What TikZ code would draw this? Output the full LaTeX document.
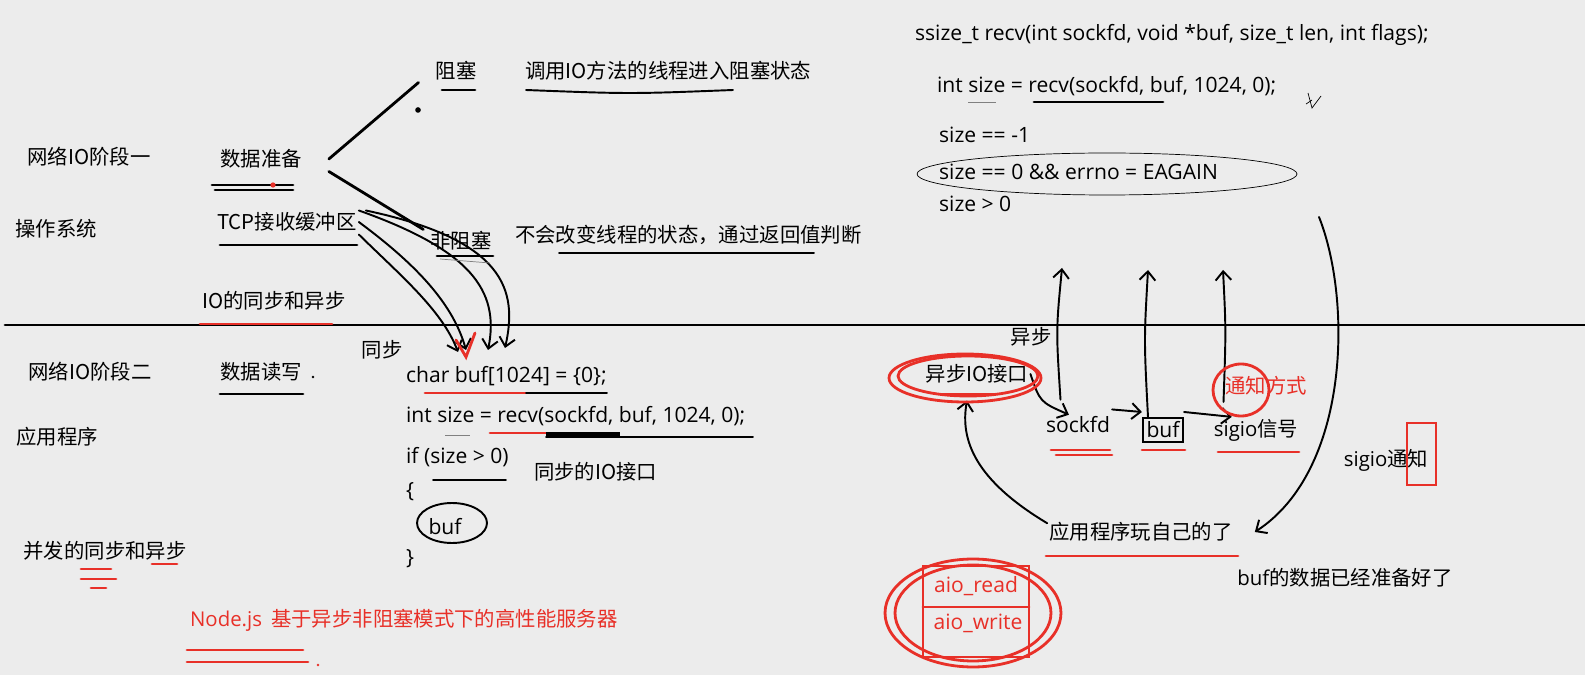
\documentclass[tikz,border=0pt]{standalone}
\usepackage{fontspec}
\setmainfont{Noto Sans CJK SC}
\newfontfamily\latinfont{Open Sans}
\usetikzlibrary{positioning,arrows.meta,shapes.geometric}
\definecolor{board}{RGB}{236,236,236}
\definecolor{marker}{RGB}{232,48,40}

\begin{document}
\begin{tikzpicture}[
x=0.02cm, y=-0.02cm,
every node/.style={
    inner sep=1pt,
    font=\fontsize{11.6}{13}\selectfont
},
latin/.style={font=\fontsize{12}{14}\selectfont\latinfont},
codeline/.style={latin, anchor=west},
redtext/.style={text=marker},
pen/.style={line width=1.6pt, line cap=round},
thinpen/.style={line width=1.1pt, line cap=round},
redpen/.style={line width=1.6pt, line cap=round, draw=marker},
>={Straight Barb[length=5pt,width=9pt]}
]

\useasboundingbox (0,0) rectangle (1585,675);
\fill[board] (0,0) rectangle (1585,675);

% upper left: stage one
\node (stage1) at (89,157) {网络IO阶段一};
\node (prep) at (261,159) {数据准备};
\node (os) at (56,229) {操作系统};
\node (tcp) at (287,222) {TCP接收缓冲区};
\node (iosync) at (274,301) {IO的同步和异步};
\node (block) at (456,71) {阻塞};
\node[anchor=west] (blockdesc) at (523,71) {调用IO方法的线程进入阻塞状态};
\node (nonblock) at (461,241) {非阻塞};
\node[anchor=west] (nbdesc) at (513,235) {不会改变线程的状态，通过返回值判断};

% lower left: stage two
\node (sync) at (382,350) {同步};
\node (stage2) at (90,372) {网络IO阶段二};
\node (rw) at (261,372) {数据读写};
\node (app) at (57,437) {应用程序};
\node[codeline] (c1) at (404,376) {char buf[1024] = \{0\};};
\node[codeline] (c2) at (404,416) {int size = recv(sockfd, buf, 1024, 0);};
\node[codeline] (c3) at (404,457) {if (size > 0)};
\node[codeline] (c4) at (404,492) {\{};
\node[latin] (c5) at (445,527) {buf};
\node[codeline] (c6) at (404,559) {\}};
\node[anchor=west] (syncif) at (532,472) {同步的IO接口};
\node (conc) at (105,551) {并发的同步和异步};
\node[anchor=west,redtext] (nodejs) at (188,620) {{\latinfont Node.js}\ \ 基于异步非阻塞模式下的高性能服务器};

% upper right: recv results
\node[codeline] (sig) at (913,35) {ssize\_t recv(int sockfd, void *buf, size\_t len, int flags);};
\node[codeline] (rcall) at (935,86) {int size = recv(sockfd, buf, 1024, 0);};
\node[codeline] (s1) at (937,135) {size == -1};
\node[codeline] (s2) at (937,172) {size == 0 \&\& errno = EAGAIN};
\node[codeline] (s3) at (937,204) {size > 0};

% lower right: async interface
\node (async) at (1031,337) {异步};
\node (aif) at (977,374) {异步IO接口};
\node[latin] (sockfd) at (1078,425) {sockfd};
\node[latin,draw,line width=1.2pt,inner sep=2pt] (buf) at (1163,430) {buf};
\node (sigio) at (1256,430) {{\latinfont sigio}信号};
\node[redtext] (notify) at (1266,386) {通知方式};
\node (sigion) at (1386,460) {{\latinfont sigio}通知};
\node (play) at (1141,532) {应用程序玩自己的了};
\node (ready) at (1345,578) {{\latinfont buf}的数据已经准备好了};
\node[latin,redtext] (aread) at (976,586) {aio\_read};
\node[latin,redtext] (awrite) at (978,623) {aio\_write};

\coordinate (up1) at (1062,268);
\coordinate (up2) at (1148,270);
\coordinate (up3) at (1223,270);
\coordinate (drop) at (1319,217);

% divider
\draw[pen] (5,325) -- (1585,325);

% fork from data preparation
\draw[pen] ([xshift=0.5cm]prep.east) -- ([xshift=-0.3cm]block.south west);
\draw[pen] ([xshift=0.5cm,yshift=-0.25cm]prep.east) -- ([xshift=-0.1cm]nonblock.north west);
\fill (418,110) circle (1.6pt);
\fill (313,377) circle (0.8pt);

% buffer copied into buf
\draw[thinpen,->] (tcp.east) .. controls (410,260) and (452,300) .. (466,350);
\draw[thinpen,->] ([yshift=-0.25cm]tcp.east) .. controls (400,275) and (442,310) .. (458,352);
\draw[thinpen,->] (tcp.north east) .. controls (470,250) and (500,290) .. (488,350);
\draw[thinpen,->] ([xshift=4pt]tcp.north east) .. controls (505,240) and (518,290) .. (505,348);
\draw[redpen] (456,340) -- (466,357) -- (475,333);

% async flow
\draw[thinpen,->] (aif.east) .. controls (1040,402) .. ([xshift=0.5cm]sockfd.north west);
\draw[thinpen,->] ([yshift=3pt]sockfd.north east) -- ([yshift=3pt]buf.north west);
\draw[thinpen,->] ([yshift=3pt]buf.north east) -- ([xshift=0.4cm]sigio.north west);
\draw[thinpen,->] ([xshift=-0.35cm,yshift=0.3cm]sockfd.north) .. controls (1056,330) .. (up1);
\draw[thinpen,->] ([xshift=-0.3cm]buf.north) .. controls (1144,340) .. (up2);
\draw[thinpen,->] ([xshift=-0.65cm,yshift=0.3cm]sigio.north) .. controls (1226,330) .. (up3);
\draw[thinpen,->] (drop) .. controls (1352,300) and (1350,470) .. ([xshift=0.4cm]play.east);
\draw[thinpen,->] ([yshift=5pt]play.west) .. controls (975,480) and (960,440) .. ([xshift=-0.2cm,yshift=-0.3cm]aif.south);

% black marks
\draw[pen] (212,185) -- (293,185) (215,190) -- (293,190);
\fill[marker] (273,185) circle (1.5pt);
\draw[pen] (220,245) -- (357,245);
\draw[pen] (442,90) -- (475,90);
\draw[thinpen] (526,90) .. controls (630,94) .. (733,90);
\draw[pen] (437,256) -- (493,256);
\draw[gray,thin] (440,259) -- (490,263);
\draw[thinpen] (559,253) -- (814,253);
\draw[pen] (220,394) -- (303,394);
\draw[redpen] (425,393) -- (526,393);
\draw[thinpen] (526,393) -- (607,393);
\draw[gray,thin] (445,435) -- (470,435);
\draw[redpen] (490,433) -- (546,433);
\draw[line width=3pt] (546,435) -- (620,435);
\draw[thinpen] (546,437) -- (753,437);
\draw[thinpen] (433,480) -- (506,480);
\draw[thinpen] (452,523) ellipse [x radius=0.7cm, y radius=0.4cm];
\draw[pen] (1034,102) -- (1163,102);
\draw[gray,thin] (968,102) -- (996,102);
\draw[thin] (1308,93) -- (1312,108) -- (1321,96) (1312,100) -- (1306,104);
\draw[thin] (1107,174) ellipse [x radius=3.8cm, y radius=0.42cm];

% red marks
\draw[redpen] (200,324) -- (332,324);
\draw[redpen] (81,569) -- (111,569) (81,579) -- (116,579) (91,588) -- (106,588) (152,564) -- (177,564);
\draw[redpen] (187,650) -- (303,650) (187,662) -- (308,662);
\fill[marker] (318,665) circle (0.8pt);
\draw[redpen] ([xshift=-0.24cm,yshift=-0.08cm]aif.center) ellipse [x radius=1.52cm, y radius=0.48cm];
\draw[redpen] ([xshift=-0.18cm,yshift=-0.04cm]aif.center) ellipse [x radius=1.4cm, y radius=0.4cm];
\draw[redpen] (935,394) -- (996,394);
\draw[redpen] (1051,450) -- (1110,450) (1056,455) -- (1112,455);
\draw[redpen] (1142,450) -- (1185,450);
\draw[redpen] (1218,452) -- (1299,452);
\draw[redpen] (1241,390) ellipse [x radius=0.56cm, y radius=0.52cm];
\draw[redpen] (1407,423) rectangle (1436,485);
\draw[redpen] (1046,556) -- (1238,556);
\draw[redpen] (923,566) rectangle (1029,657) (923,607) -- (1029,607);
\draw[redpen] (973,613) ellipse [x radius=1.76cm, y radius=1.08cm];
\draw[redpen] (973,613) ellipse [x radius=1.56cm, y radius=0.96cm];

\end{tikzpicture}
\end{document}
